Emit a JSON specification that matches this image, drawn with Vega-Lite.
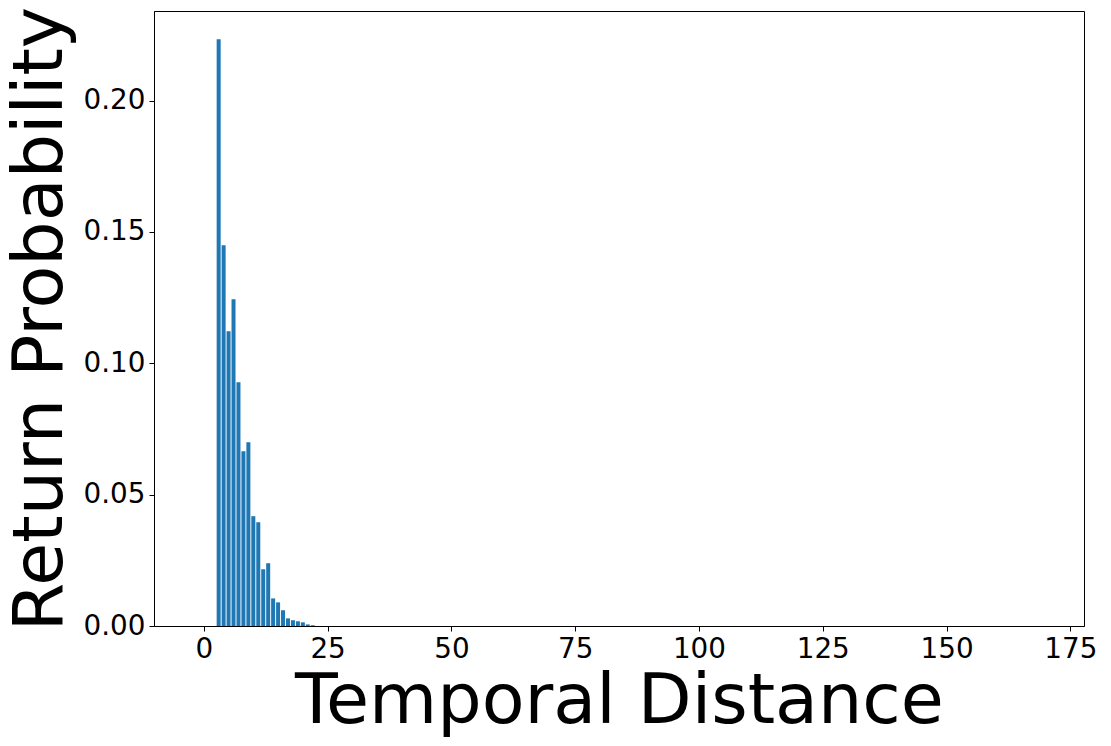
{
  "$schema": "https://vega.github.io/schema/vega-lite/v6.json",
  "autosize": "none",
  "width": 930,
  "height": 615,
  "padding": {"left": 154, "top": 11, "right": 27, "bottom": 120},
  "background": "white",
  "config": {
    "view": {"stroke": "black", "strokeWidth": 1},
    "font": "DejaVu Sans",
    "axis": {
      "grid": false,
      "domainColor": "black",
      "tickColor": "black",
      "labelColor": "black",
      "titleColor": "black",
      "labelFont": "DejaVu Sans",
      "titleFont": "DejaVu Sans",
      "labelFontSize": 27.8,
      "titleFontSize": 70,
      "titleFontWeight": "normal",
      "tickSize": 5,
      "labelPadding": 4,
      "domainWidth": 1,
      "tickWidth": 1
    }
  },
  "data": {
    "values": [
      {"distance": 3, "prob": 0.2233},
      {"distance": 4, "prob": 0.1449},
      {"distance": 5, "prob": 0.1122},
      {"distance": 6, "prob": 0.1244},
      {"distance": 7, "prob": 0.0928},
      {"distance": 8, "prob": 0.0665},
      {"distance": 9, "prob": 0.0699},
      {"distance": 10, "prob": 0.0418},
      {"distance": 11, "prob": 0.0395},
      {"distance": 12, "prob": 0.0216},
      {"distance": 13, "prob": 0.0239},
      {"distance": 14, "prob": 0.0105},
      {"distance": 15, "prob": 0.0090},
      {"distance": 16, "prob": 0.0060},
      {"distance": 17, "prob": 0.0029},
      {"distance": 18, "prob": 0.0022},
      {"distance": 19, "prob": 0.0018},
      {"distance": 20, "prob": 0.0014},
      {"distance": 21, "prob": 0.0006},
      {"distance": 22, "prob": 0.0003}
    ]
  },
  "mark": {"type": "bar", "size": 4, "color": "#1f77b4"},
  "encoding": {
    "x": {
      "field": "distance",
      "type": "quantitative",
      "scale": {"domain": [-9.05, 176.75], "nice": false, "zero": false},
      "axis": {
        "values": [0, 25, 50, 75, 100, 125, 150, 175],
        "title": "Temporal Distance",
        "titlePadding": 4.6
      }
    },
    "y": {
      "field": "prob",
      "type": "quantitative",
      "scale": {"domain": [0, 0.2341], "nice": false},
      "axis": {
        "values": [0, 0.05, 0.10, 0.15, 0.20],
        "format": ".2f",
        "title": "Return Probability",
        "titlePadding": 7
      }
    }
  }
}
